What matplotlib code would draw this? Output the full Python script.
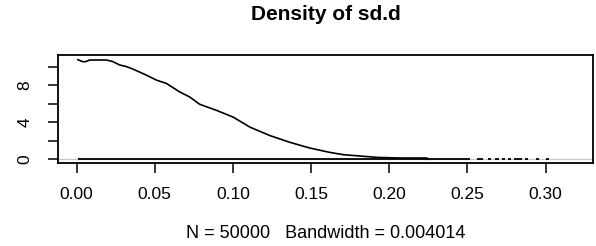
import numpy as np
import matplotlib
matplotlib.use("Agg")
import matplotlib.pyplot as plt

plt.rcParams['font.family'] = ['Liberation Sans', 'DejaVu Sans']

# density curve
dens_x = [0.0008, 0.004, 0.0058, 0.0083, 0.019, 0.023, 0.0276, 0.0319, 0.036,
          0.0447, 0.0511, 0.0575, 0.066, 0.0724, 0.0788, 0.0896, 0.1002, 0.111,
          0.1237, 0.1365, 0.149, 0.162, 0.1707, 0.181, 0.193, 0.207, 0.224,
          0.225]
dens_y = [10.76, 10.55, 10.55, 10.73, 10.73, 10.57, 10.19, 10.02, 9.75,
          9.09, 8.55, 8.19, 7.27, 6.72, 5.93, 5.27, 4.54, 3.45,
          2.54, 1.81, 1.20, 0.72, 0.47, 0.33, 0.17, 0.11, 0.11,
          0.0]

# black pieces lying on the zero line
base_start = [0.0007, 0.256, 0.263, 0.268, 0.272, 0.276, 0.280, 0.287, 0.294, 0.300]
base_end = [0.252, 0.260, 0.265, 0.270, 0.274, 0.278, 0.285, 0.289, 0.296, 0.302]

xticks = [0.00, 0.05, 0.10, 0.15, 0.20, 0.25, 0.30]
yticks = [0, 2, 4, 6, 8, 10]
yticklabels = ['0', '', '4', '', '8', '']

n_obs = 50000
bw = 0.004014

fig = plt.figure(figsize=(5.96, 2.46), dpi=100)
ax = fig.add_axes([0.0965, 0.3374, 0.8993, 0.4374])

ax.axhline(0, color='#c8c8c8', lw=1.0, zorder=1)
ax.hlines(np.zeros(len(base_start)), base_start, base_end, color='black', lw=1.3, zorder=2)
ax.plot(dens_x, dens_y, color='black', lw=1.2, zorder=3)

ax.set_xlim(-0.0122, 0.3307)
ax.set_ylim(-0.43, 11.23)
ax.set_xticks(xticks)
ax.set_xticklabels(['%.2f' % v for v in xticks])
ax.set_yticks(yticks)
ax.set_yticklabels(yticklabels, rotation=90, va='center')
ax.tick_params(axis='both', direction='out', length=7.2, width=1.1, labelsize=12.5)
ax.tick_params(axis='x', pad=10)
ax.tick_params(axis='y', pad=11)
for s in ax.spines.values():
    s.set_linewidth(1.3)

fig.text(0.546, 1 - 15 / 246, 'Density of sd.d', ha='center', va='center',
         fontsize=15, fontweight='bold')
fig.text(0.546, 1 - 233 / 246, 'N = %d   Bandwidth = %s' % (n_obs, bw),
         ha='center', va='center', fontsize=13)

fig.savefig('out.png', dpi=100)
